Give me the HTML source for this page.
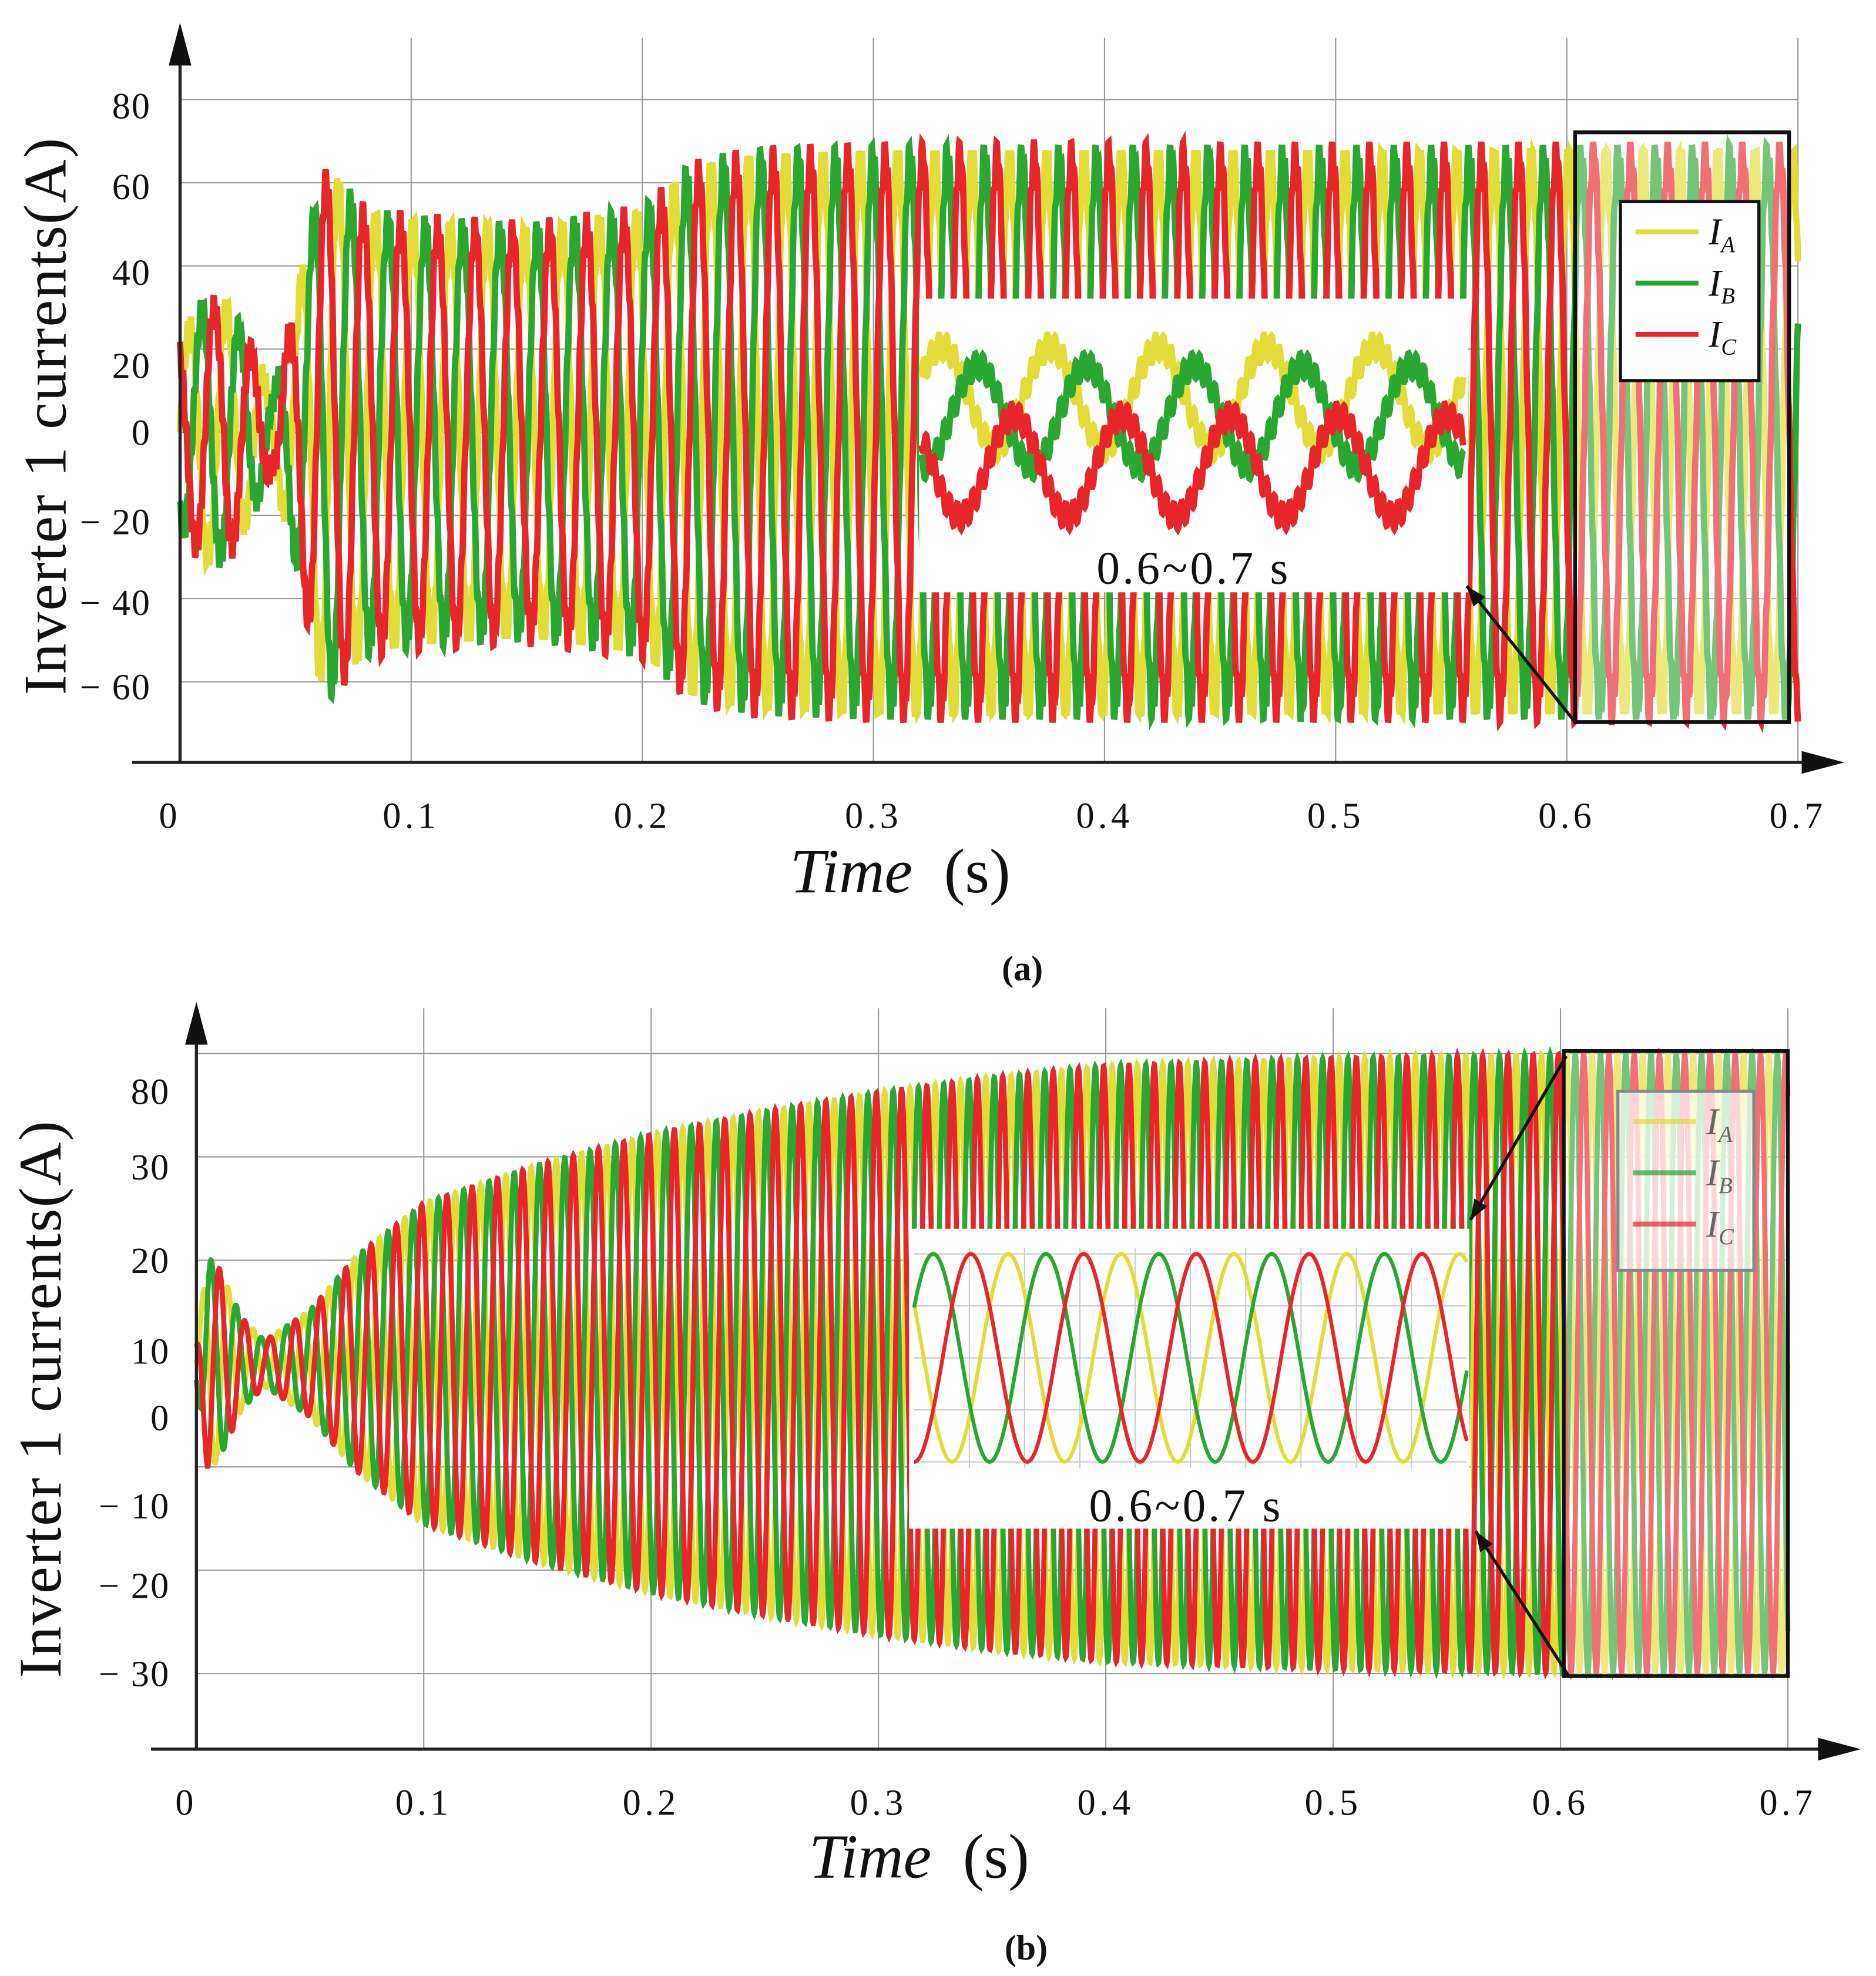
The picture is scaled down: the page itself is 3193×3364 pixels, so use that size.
<!DOCTYPE html>
<html><head><meta charset="utf-8"><style>
html,body{margin:0;padding:0;background:#fff}
svg{display:block}
text{font-family:"Liberation Serif",serif}
</style></head><body>
<svg id="chart" xmlns="http://www.w3.org/2000/svg" width="3193" height="3364" viewBox="0 0 1490 1568" preserveAspectRatio="none">
<g id="pa"></g>
<g id="pb"></g>
</svg>
<script>
// ---- Data ----
const xTicks = [0,0.1,0.2,0.3,0.4,0.5,0.6,0.7];
const xTickLabels = ["0","0.1","0.2","0.3","0.4","0.5","0.6","0.7"];
const aYTicks = [80,60,40,20,0,-20,-40,-60];
const aYTickLabels = ["80","60","40","20","0","\u2212 20","\u2212 40","\u2212 60"];
const aEnvT = [0,0.01,0.02,0.03,0.04,0.05,0.06,0.065,0.08,0.1,0.15,0.2,0.22,0.23,0.25,0.3,0.7];
const aEnvA = [22,30,30,20,8,30,58,62,52,50,48,52,62,64,66,67,67];
const bYTickLabels = ["80","30","20","10","0","\u2212 10","\u2212 20","\u2212 30"];
const bYTickVals = [73,62,47,32,21,6,-8,-30];
const bEnvT = [0,0.005,0.01,0.02,0.03,0.05,0.07,0.1,0.15,0.2,0.25,0.3,0.35,0.4,0.5,0.6,0.7];
const bEnvA = [5,28,25,12,6,14,28,42,52,60,66,71,75,78,80,81,81];
const phases = [0,-120,120];
const seriesNames = ["IA","IB","IC"];
const colors = ["#e2dc3a","#2aa632","#e6262b"];

const NS="http://www.w3.org/2000/svg";
function el(tag,attrs,parent){const e=document.createElementNS(NS,tag);for(const k in attrs)e.setAttribute(k,attrs[k]);parent.appendChild(e);return e;}
function interp(T,A,t){if(t<=T[0])return A[0];for(let i=1;i<T.length;i++){if(t<=T[i]){const f=(t-T[i-1])/(T[i]-T[i-1]);return A[i-1]+f*(A[i]-A[i-1]);}}return A[A.length-1];}

function panel(g,cfg){
  const X=t=>cfg.x0+(t/0.7)*(cfg.x7-cfg.x0);
  const Y=v=>cfg.yc-v*cfg.ys;
  xTicks.forEach((t,i)=>{
    const l=el('line',{x1:X(t),x2:X(t),y1:cfg.gTop,y2:cfg.axY,stroke:i==0?'none':'#999','stroke-width':1},g);
    
  });
  cfg.gridY.forEach(y=>{
    const l=el('line',{x1:cfg.x0,x2:cfg.x7,y1:y,y2:y,stroke:'#999','stroke-width':1},g);
    
  });
  const N=5600;
  for(let s=0;s<3;s++){
    let pts=[];
    for(let i=0;i<=N;i++){
      const t=0.7*i/N;
      const A=interp(cfg.envT,cfg.envA,t);
      let v=A*Math.sin(2*Math.PI*cfg.f*t+phases[s]*Math.PI/180);
      if(cfg.ripple)v+=cfg.ripple*Math.sin(2*Math.PI*cfg.f*11*t+s);
      pts.push(X(t).toFixed(1)+','+Y(v).toFixed(1));
    }
    const p=el('polyline',{points:pts.join(' '),fill:'none',stroke:colors[s],'stroke-width':cfg.sw},g);
    
  }
  const ax=el('line',{x1:cfg.axX0,x2:cfg.axX1-20,y1:cfg.axY,y2:cfg.axY,stroke:'#222','stroke-width':2.5},g);
  
  const xa=el('polygon',{points:`${cfg.axX1},${cfg.axY} ${cfg.axX1-34},${cfg.axY-9} ${cfg.axX1-34},${cfg.axY+9}`,fill:'#111'},g);
  
  const ay=el('line',{x1:cfg.x0,x2:cfg.x0,y1:cfg.axTop+20,y2:cfg.axY,stroke:'#222','stroke-width':2.5},g);
  
  const ya=el('polygon',{points:`${cfg.x0},${cfg.axTop} ${cfg.x0-9},${cfg.axTop+34} ${cfg.x0+9},${cfg.axTop+34}`,fill:'#111'},g);
  
  xTicks.forEach((t,i)=>{
    const tx=el('text',{x:X(t)-(i==0?8:0),y:cfg.axY+52,'text-anchor':'middle','font-size':29,'letter-spacing':3,fill:'#111'},g);
    tx.textContent=xTickLabels[i];
    
  });
  cfg.yLabels.forEach((lab,i)=>{
    const tx=el('text',{x:cfg.yLabX,y:cfg.yLabY[i]+10,'text-anchor':'end','font-size':29,'letter-spacing':1,fill:'#111'},g);
    tx.textContent=lab;
    
  });
  const yt=el('text',{x:0,y:0,'text-anchor':'middle','font-size':48,'letter-spacing':1,fill:'#111',transform:`translate(${cfg.ytX},${cfg.ytY}) rotate(-90)`},g);
  yt.textContent='Inverter 1 currents(A)';
  
  const xt=el('text',{x:cfg.xtX,y:cfg.xtY,'text-anchor':'middle','font-size':50,fill:'#111'},g);
  const t1=el('tspan',{'font-style':'italic'},xt);t1.textContent='Time';
  const t2=el('tspan',{},xt);t2.textContent='\u2002(s)';
  
  const cap=el('text',{x:cfg.capX,y:cfg.capY,'text-anchor':'middle','font-size':28,'font-weight':'bold',fill:'#111'},g);
  cap.textContent=cfg.cap;
  const zr=el('rect',{x:cfg.zr[0],y:cfg.zr[1],width:cfg.zr[2],height:cfg.zr[3],fill:'rgba(255,255,255,0.35)',stroke:'#111','stroke-width':3},g);
  
  const ib=el('rect',{x:cfg.ins[0],y:cfg.ins[1],width:cfg.ins[2],height:cfg.ins[3],fill:'#fff'},g);
  
  const iw=cfg.insW;
  if(cfg.insGrid){
    for(let k=1;k<10;k++){const x=iw[0]+k*(iw[2]-iw[0])/10;const l=el('line',{x1:x,x2:x,y1:iw[1]-5,y2:iw[3]+5,stroke:'#ccc','stroke-width':1},g);}
    for(let k=0;k<=4;k++){const y=iw[1]+k*(iw[3]-iw[1])/4;const l=el('line',{x1:iw[0],x2:iw[2],y1:y,y2:y,stroke:'#ccc','stroke-width':1},g);}
  }
  for(let s=0;s<3;s++){
    let pts=[];const M=1600;
    for(let i=0;i<=M;i++){
      const u=i/M;const x=iw[0]+u*(iw[2]-iw[0]);
      const yc=(iw[1]+iw[3])/2+cfg.insOff[s];
      const amp=(iw[3]-iw[1])/2*cfg.insAmp;
      let v=Math.sin(2*Math.PI*cfg.insCyc*u+phases[s]*Math.PI/180+cfg.insPh);
      if(cfg.insRip)v+=cfg.insRip*Math.sin(2*Math.PI*cfg.insCyc*14*u+s*2);
      pts.push(x.toFixed(1)+','+(yc-v*amp).toFixed(1));
    }
    const p=el('polyline',{points:pts.join(' '),fill:'none',stroke:colors[s],'stroke-width':cfg.insSw},g);
    
  }
  const il=el('text',{x:cfg.insLab[0],y:cfg.insLab[1],'text-anchor':'middle','font-size':37,'letter-spacing':2,fill:'#111'},g);
  il.textContent='0.6~0.7 s';
  cfg.arrows.forEach(a=>{
    const l=el('line',{x1:a[0],y1:a[1],x2:a[2],y2:a[3],stroke:'#111','stroke-width':2.5},g);
    
    const ang=Math.atan2(a[3]-a[1],a[2]-a[0]);const L=16,W=6;
    const bx=a[2]-L*Math.cos(ang),by=a[3]-L*Math.sin(ang);
    const h=el('polygon',{points:`${a[2]},${a[3]} ${bx-W*Math.sin(ang)},${by+W*Math.cos(ang)} ${bx+W*Math.sin(ang)},${by-W*Math.cos(ang)}`,fill:'#111'},g);
    
  });
  const lg=cfg.leg;
  const lr=el('rect',{x:lg[0],y:lg[1],width:lg[2],height:lg[3],fill:cfg.legFill,stroke:cfg.legStroke,'stroke-width':2.5},g);
  
  const subs=['A','B','C'];
  for(let s=0;s<3;s++){
    const y=lg[1]+24+s*(lg[3]-20)/3;
    const l=el('line',{x1:lg[0]+12,x2:lg[0]+62,y1:y,y2:y,stroke:colors[s],'stroke-width':4,opacity:cfg.legOp},g);
    
    const tx=el('text',{x:lg[0]+70,y:y+10,'font-size':30,'font-style':'italic',fill:cfg.legText},g);
    const a=el('tspan',{},tx);a.textContent='I';
    const b=el('tspan',{'font-size':18,dy:6},tx);b.textContent=subs[s];
    
  }
}

panel(document.getElementById('pa'),{
  x0:143,x7:1428,yc:343,ys:3.3,gTop:30,axY:605,axX0:105,axX1:1465,axTop:18,
  gridY:[79,145,211,277,343,409,475,541],
  envT:aEnvT,envA:aEnvA,f:62,ripple:3,sw:5,
  yLabels:aYTickLabels,yLabX:120,yLabY:[84,148,216,290,343,414,478,545],
  ytX:52,ytY:330,xtX:715,xtY:708,capX:812,capY:778,cap:'(a)',
  zr:[1251,105,170,468],ins:[730,237,436,233],insW:[732,265,1162,425],insGrid:false,
  insOff:[-30,-15,25],insAmp:0.5,insCyc:5,insPh:0.4,insRip:0.25,insSw:5,insLab:[948,463],
  arrows:[[1251,573,1165,465]],
  leg:[1287,160,110,142],legFill:'#fff',legStroke:'#111',legOp:1,legText:'#111'
});
panel(document.getElementById('pb'),{
  x0:156,x7:1420,yc:1082,ys:3.03,gTop:800,axY:1388,axX0:120,axX1:1478,axTop:795,
  gridY:[836,918,1000,1082,1164,1246,1328],
  envT:bEnvT,envA:bEnvA,f:90,ripple:0,sw:4,
  yLabels:bYTickLabels,yLabX:135,yLabY:[866,926,1000,1072,1125,1195,1258,1328],
  ytX:48,ytY:1110,xtX:730,xtY:1490,capX:815,capY:1555,cap:'(b)',
  zr:[1242,834,178,496],ins:[722,975,445,238],insW:[726,995,1165,1160],insGrid:true,
  insOff:[0,0,0],insAmp:1,insCyc:4.9,insPh:2.6,insRip:0,insSw:3,insLab:[942,1207],
  arrows:[[1244,838,1168,968],[1246,1330,1172,1215]],
  leg:[1285,866,108,142],legFill:'rgba(255,255,255,0.7)',legStroke:'#888',legOp:0.7,legText:'#666'
});
</script>
</body></html>
